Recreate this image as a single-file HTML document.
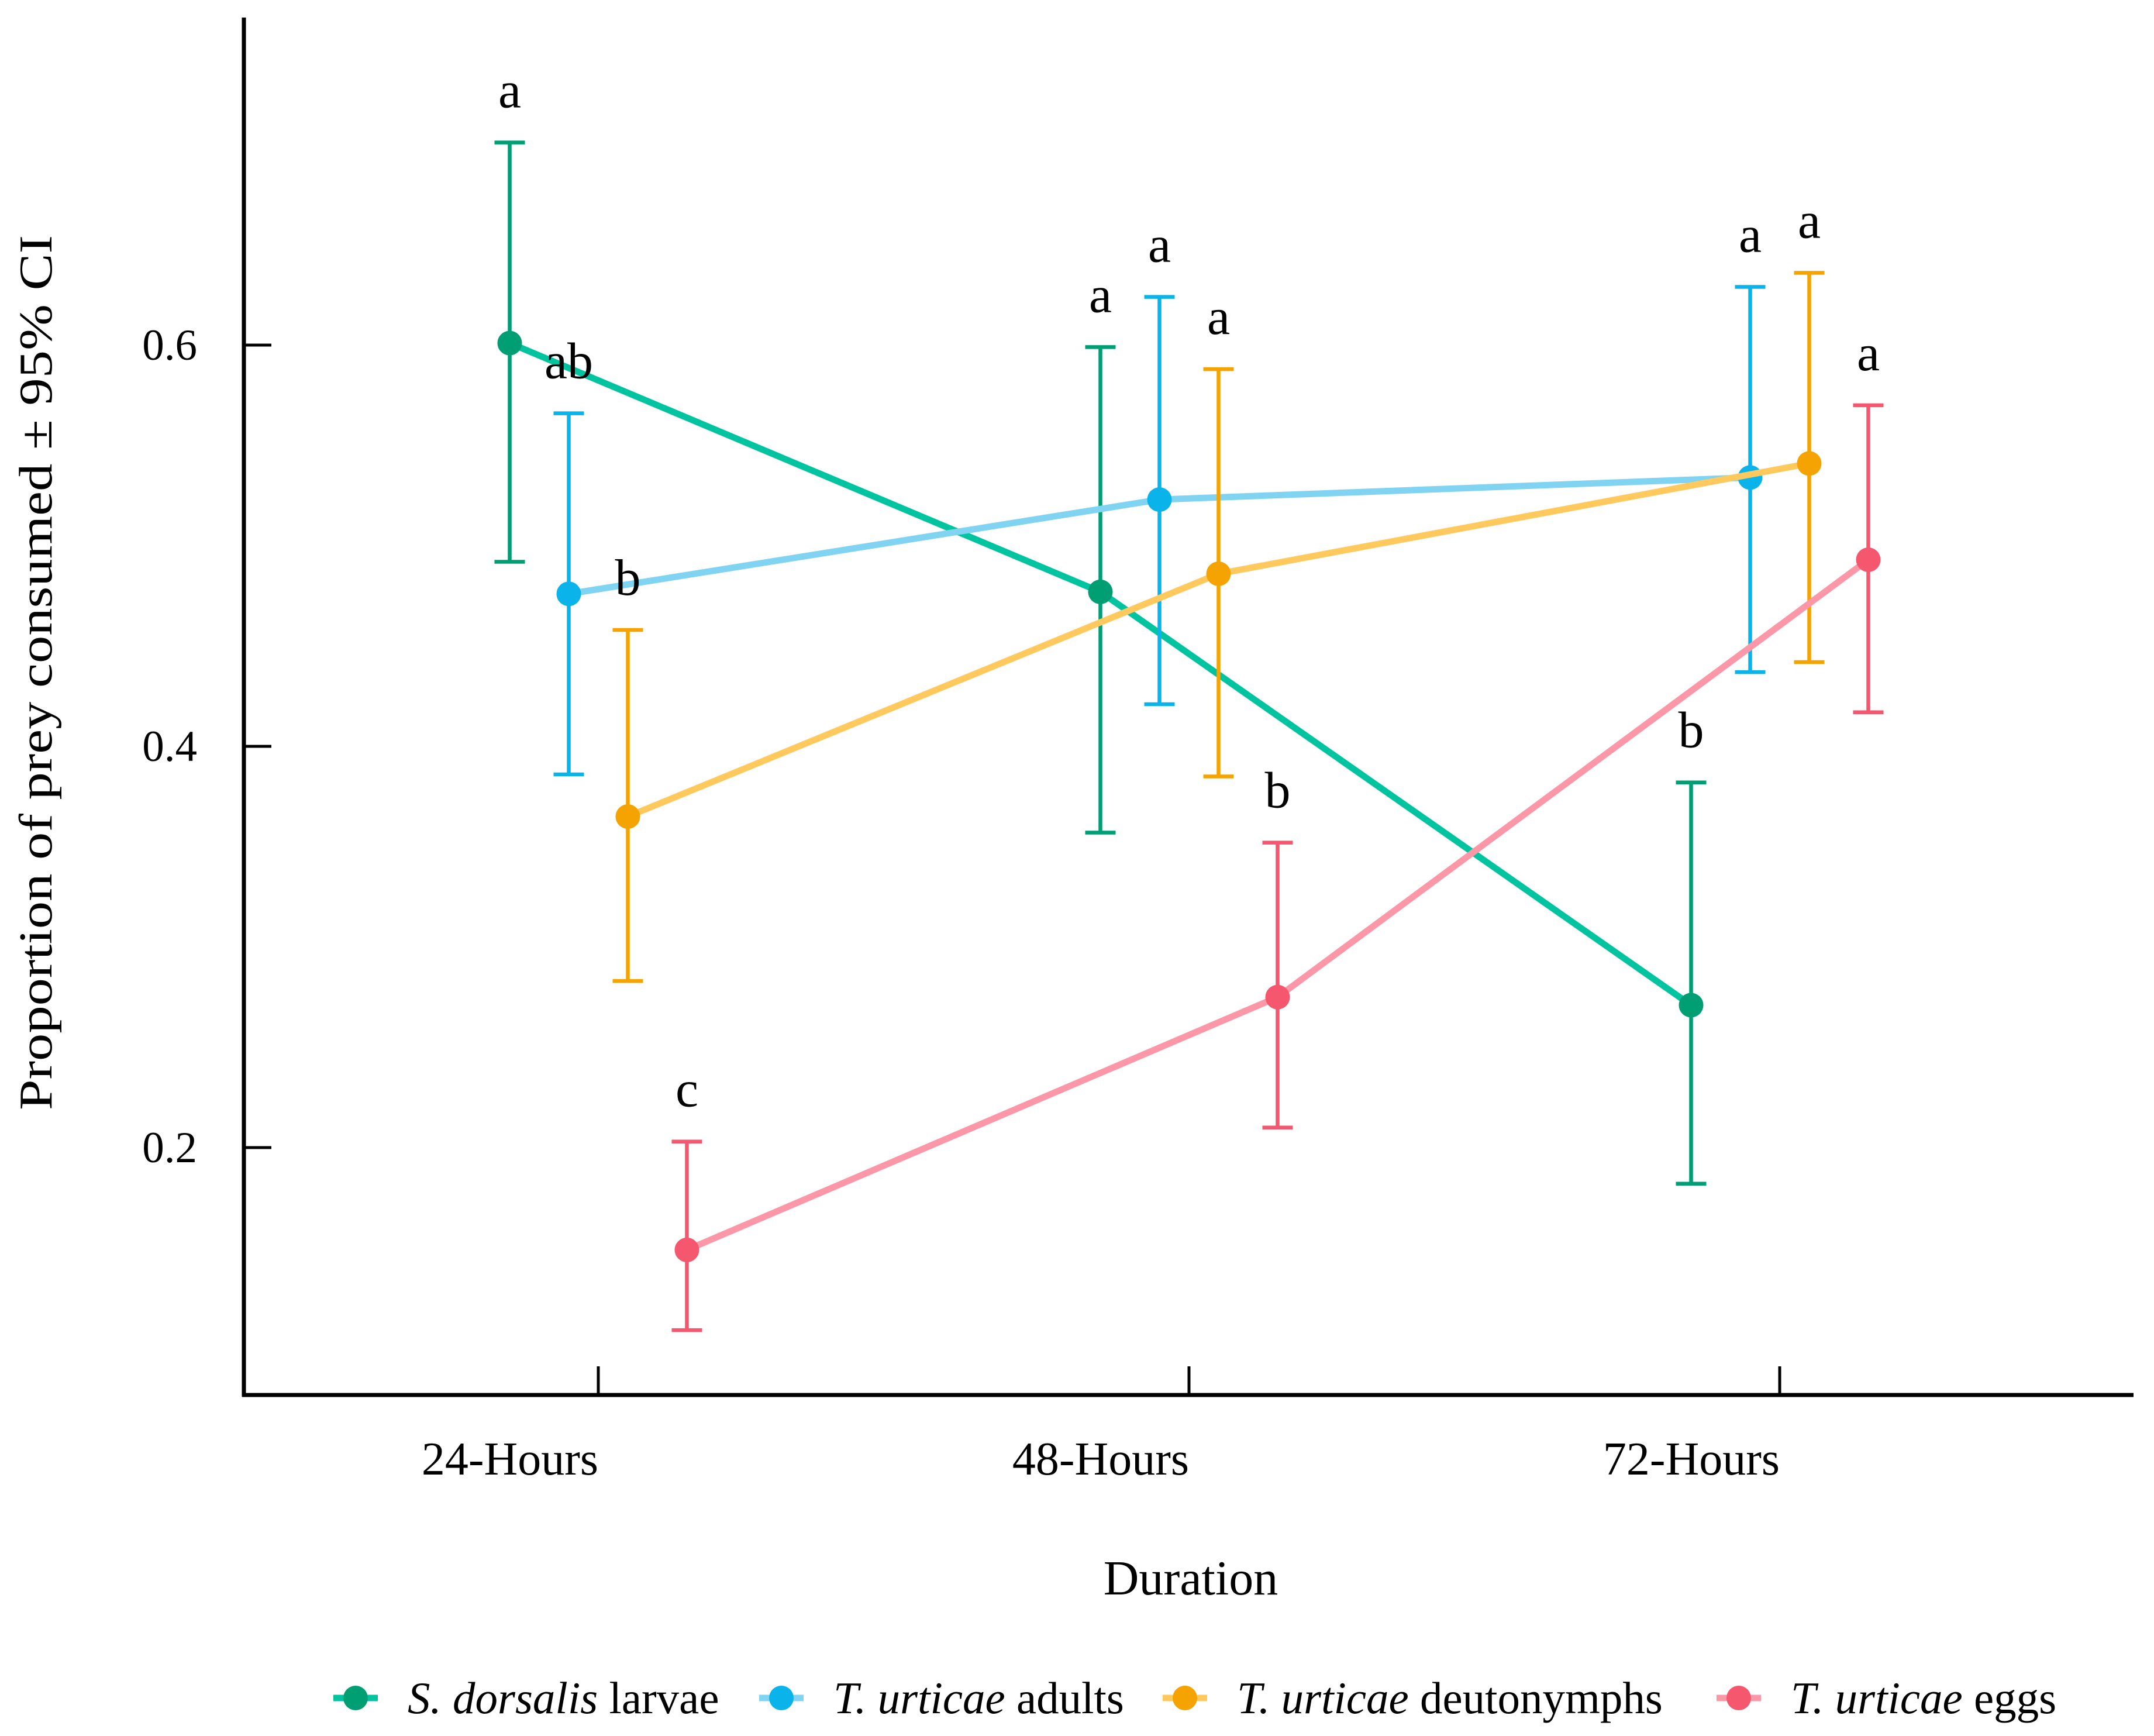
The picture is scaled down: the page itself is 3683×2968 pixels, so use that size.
<!DOCTYPE html>
<html><head><meta charset="utf-8"><style>
html,body{margin:0;padding:0;background:#fff}
svg{display:block}
text{font-family:"Liberation Serif",serif;fill:#000}
</style></head><body>
<svg id="chart" width="3683" height="2968" viewBox="0 0 3683 2968" xmlns="http://www.w3.org/2000/svg">
<g id="axes"></g>
<g id="plot"></g>
<g id="legend"></g>
</svg>
<script>
const categories = ["24-Hours","48-Hours","72-Hours"];
const seriesNames = ["S. dorsalis larvae","T. urticae adults","T. urticae deutonymphs","T. urticae eggs"];
const larvaeMean = [0.601,0.477,0.271];
const larvaeLo = [0.492,0.357,0.182];
const larvaeHi = [0.701,0.599,0.382];
const larvaeLetters = ["a","a","b"];
const adultsMean = [0.476,0.523,0.534];
const adultsLo = [0.386,0.421,0.437];
const adultsHi = [0.566,0.624,0.629];
const adultsLetters = ["ab","a","a"];
const deutoMean = [0.365,0.486,0.541];
const deutoLo = [0.283,0.385,0.442];
const deutoHi = [0.458,0.588,0.636];
const deutoLetters = ["b","a","a"];
const eggsMean = [0.149,0.275,0.493];
const eggsLo = [0.109,0.210,0.417];
const eggsHi = [0.203,0.352,0.570];
const eggsLetters = ["c","b","a"];
const yTicks = [0.2,0.4,0.6];
const yTickLabels = ["0.2","0.4","0.6"];

const NS="http://www.w3.org/2000/svg";
function mk(tag,attrs,parent){const e=document.createElementNS(NS,tag);for(const k in attrs)e.setAttribute(k,attrs[k]);parent.appendChild(e);return e;}
const yScale = v => 1962 - (v-0.2)*3430;
const xCenter = i => 1023 + i*1010;
const xDodge = (i,s) => xCenter(i) + (s-1.5)*101;
const axes=document.getElementById('axes'), plot=document.getElementById('plot'), legend=document.getElementById('legend');

let e=mk('line',{x1:417,y1:30,x2:417,y2:2388,stroke:'#000','stroke-width':7},axes);


e=mk('line',{x1:414,y1:2385,x2:3648,y2:2385,stroke:'#000','stroke-width':7},axes);


yTicks.forEach((t,i)=>{
  const y=yScale(t);
  let l=mk('line',{x1:417,y1:y,x2:464,y2:y,stroke:'#000','stroke-width':5},axes);
  
  
  let tx=mk('text',{x:337,y:y+25,'text-anchor':'end','font-size':75},axes);
  tx.textContent=yTickLabels[i];
  
  
});
categories.forEach((c,i)=>{
  const x=xCenter(i);
  let l=mk('line',{x1:x,y1:2385,x2:x,y2:2336,stroke:'#000','stroke-width':5},axes);
  
  
  let tx=mk('text',{x:x,y:2521,'text-anchor':'end','font-size':80},axes);
  tx.textContent=c;
  
  
});
e=mk('text',{x:2036,y:2726,'text-anchor':'middle','font-size':84},axes);
e.textContent='Duration';


e=mk('text',{x:0,y:0,'text-anchor':'middle','font-size':80,transform:'translate(88,1150) rotate(-90)',textLength:1496,lengthAdjust:'spacingAndGlyphs'},axes);
e.textContent='Proportion of prey consumed ± 95% CI';



const series=[
 {mean:larvaeMean,lo:larvaeLo,hi:larvaeHi,let:larvaeLetters,dot:'#009E73',line:'#00C4A0',key:'larvae'},
 {mean:adultsMean,lo:adultsLo,hi:adultsHi,let:adultsLetters,dot:'#0AB4EA',line:'#80D4F2',key:'adults'},
 {mean:deutoMean,lo:deutoLo,hi:deutoHi,let:deutoLetters,dot:'#F5A300',line:'#FFC95E',key:'deutonymphs'},
 {mean:eggsMean,lo:eggsLo,hi:eggsHi,let:eggsLetters,dot:'#F5576F',line:'#FC97A7',key:'eggs'}
];
series.forEach((s,si)=>{
  const g=mk('g',{},plot);
  
  
  const pts=s.mean.map((v,i)=>xDodge(i,si)+','+yScale(v)).join(' ');
  let pl=mk('polyline',{points:pts,fill:'none',stroke:s.line,'stroke-width':11,'stroke-linejoin':'round'},g);
  
  
});
series.forEach((s,si)=>{
  const g=plot.children[si];
  s.mean.forEach((v,i)=>{
    const x=xDodge(i,si), yl=yScale(s.lo[i]), yh=yScale(s.hi[i]);
    let b=mk('path',{d:`M${x},${yl}V${yh}M${x-26},${yh}H${x+26}M${x-26},${yl}H${x+26}`,stroke:s.dot,'stroke-width':6.5,fill:'none'},g);
    
    
    let c=mk('circle',{cx:x,cy:yScale(v),r:21,fill:s.dot},g);
    
    
    let t=mk('text',{x:x,y:yh-60,'text-anchor':'middle','font-size':88},g);
    t.textContent=s.let[i];
    
    
  });
});

const legX=[608,1336,2026,2973];
const legItalic=["S. dorsalis","T. urticae","T. urticae","T. urticae"];
const legRest=[" larvae"," adults"," deutonymphs"," eggs"];
series.forEach((s,si)=>{
  const g=mk('g',{},legend);
  
  
  const x=legX[si], y=2903;
  mk('line',{x1:x-38,y1:y,x2:x+38,y2:y,stroke:s.line,'stroke-width':11},g);
  mk('circle',{cx:x,cy:y,r:21,fill:s.dot},g);
  const t=mk('text',{x:x+89,y:y+26,'font-size':77},g);
  const it=mk('tspan',{'font-style':'italic'},t);
  it.textContent=legItalic[si];
  const rs=mk('tspan',{},t);
  rs.textContent=legRest[si];
});
</script>
</body></html>
